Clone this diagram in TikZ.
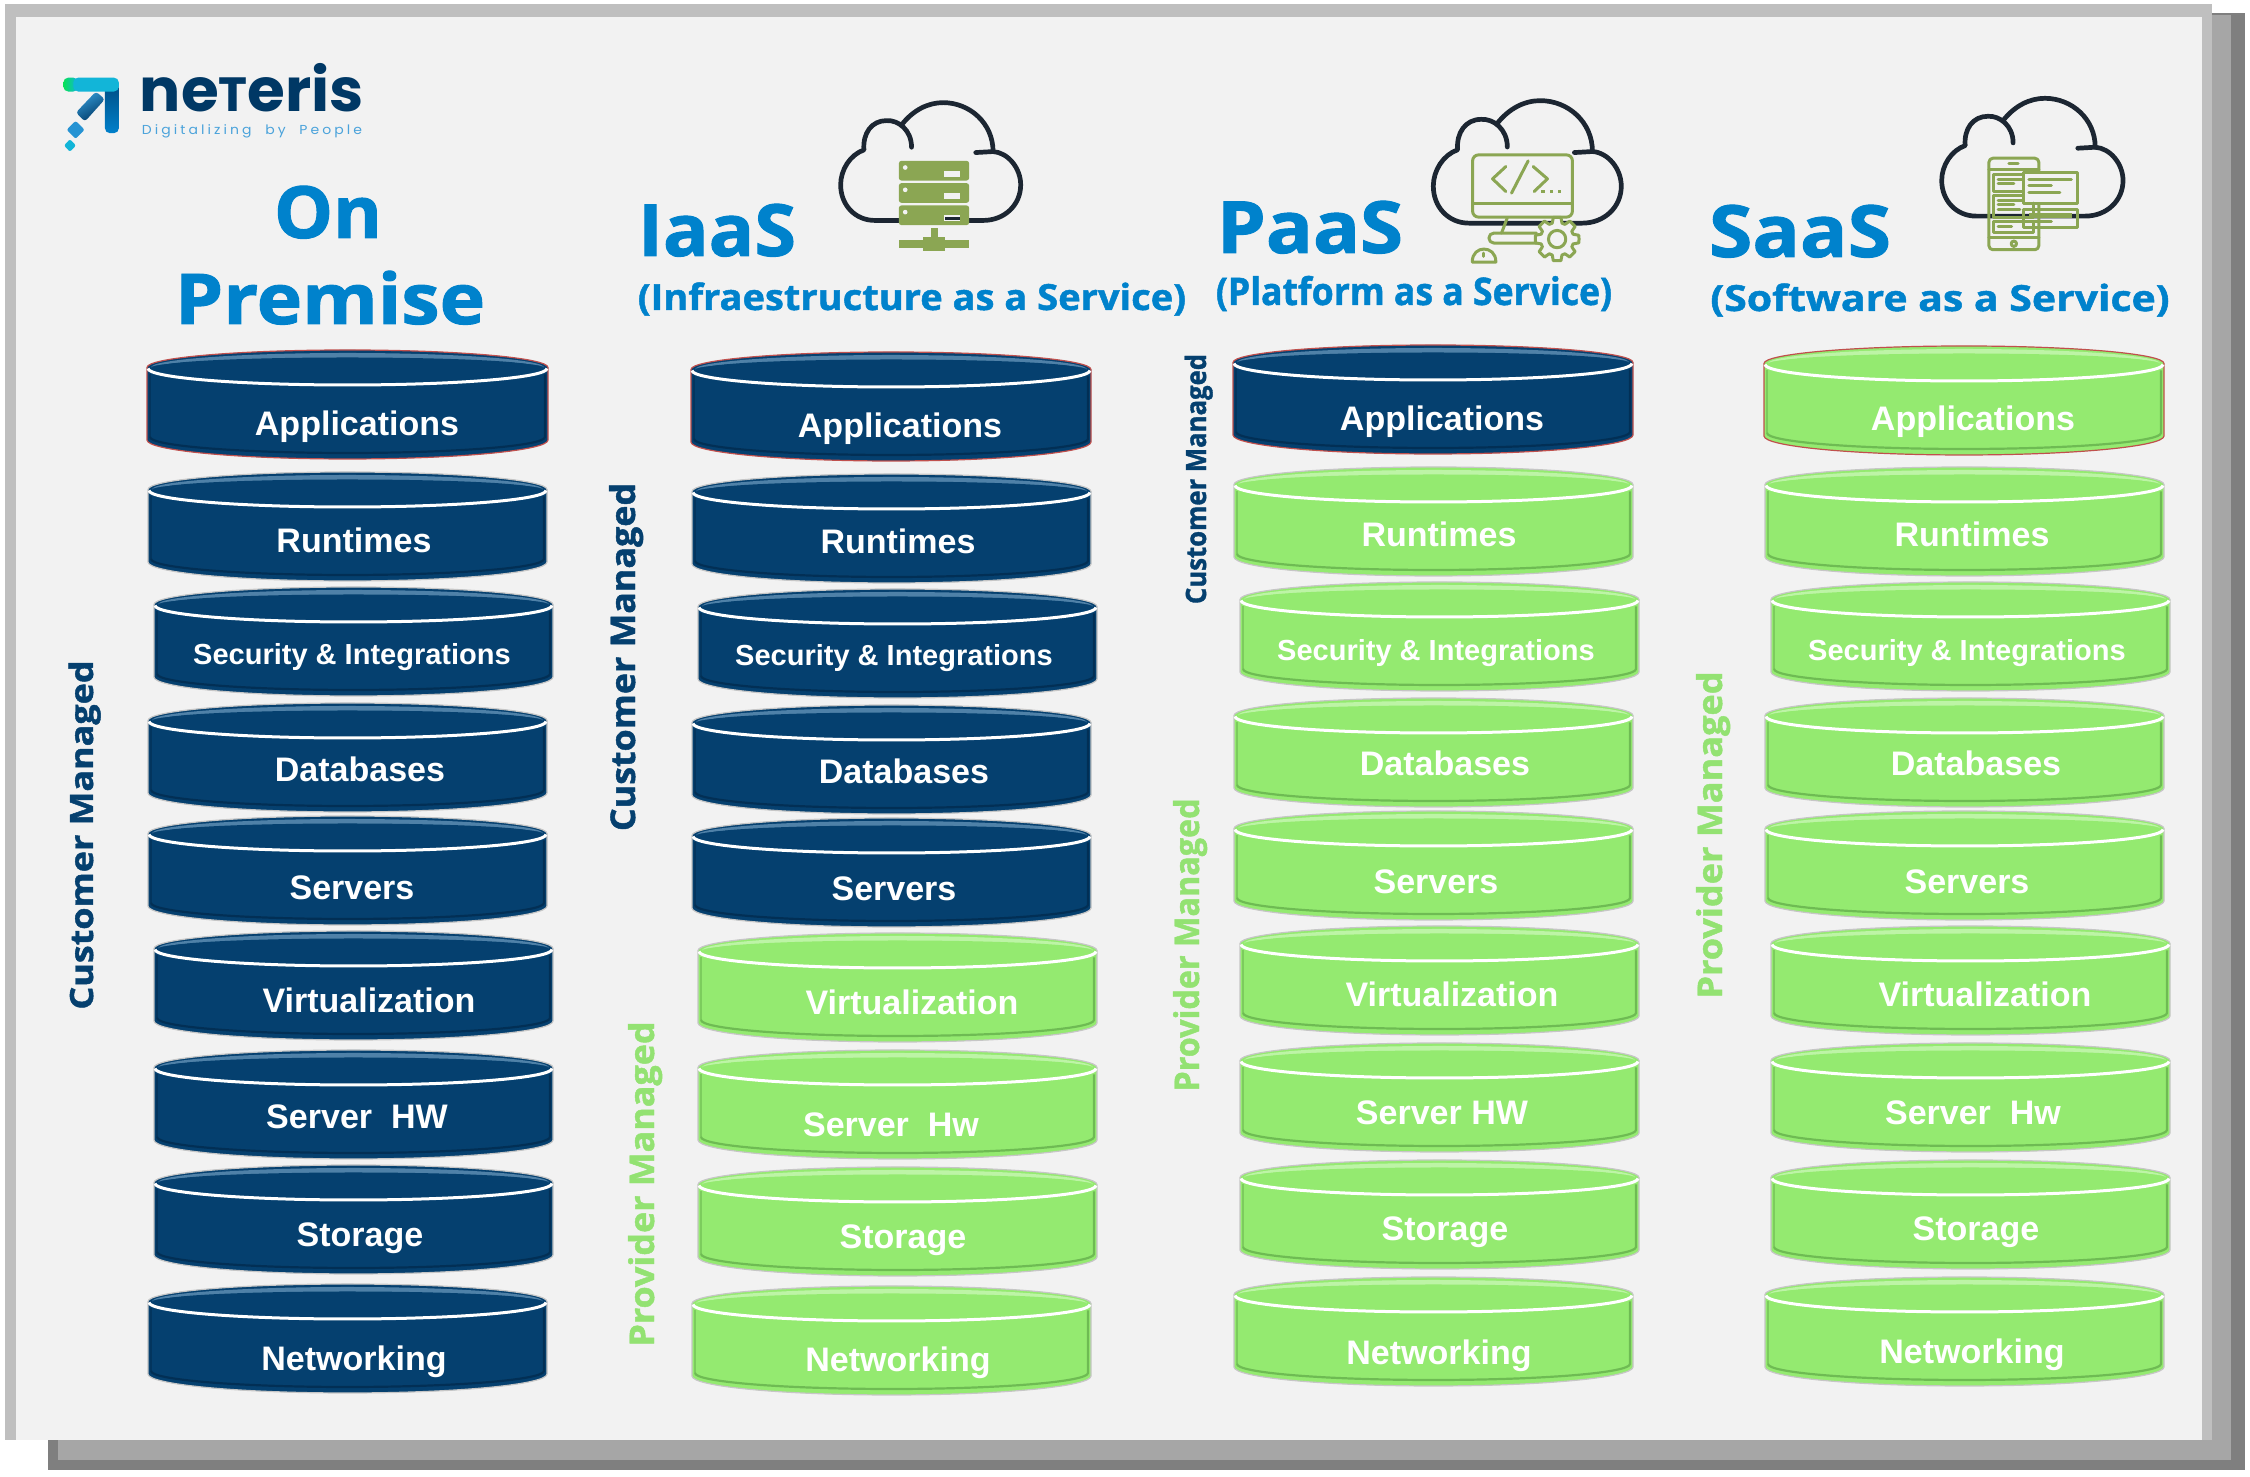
\documentclass[tikz,border=0pt]{standalone}
\usepackage{fontspec}
\usepackage{graphicx}
\setmainfont{Liberation Sans}
\newfontfamily\headfont{Open Sans}[BoldFeatures={FakeBold=1.3}]
\newfontfamily\brandfont{Poppins}
\newfontfamily\tagfont{Poppins}[LetterSpace=22]
\definecolor{panelbg}{HTML}{F2F2F2}
\definecolor{framegrey}{HTML}{BFBFBF}
\definecolor{midgrey}{HTML}{A6A6A6}
\definecolor{darkgrey}{HTML}{7F7F7F}
\definecolor{navybase}{HTML}{05406F}
\definecolor{navylight}{HTML}{4F81A8}
\definecolor{navymid}{HTML}{1B5482}
\definecolor{navydark}{HTML}{02294A}
\definecolor{greenbase}{HTML}{94EA70}
\definecolor{greenlight}{HTML}{BDF4A6}
\definecolor{greenmid}{HTML}{B2F199}
\definecolor{greendark}{HTML}{5FA848}
\definecolor{titleblue}{HTML}{0082CC}
\definecolor{providergreen}{HTML}{93E272}
\definecolor{cloudink}{HTML}{1C2632}
\definecolor{iconolive}{HTML}{8BA653}
\definecolor{edgegrey}{HTML}{C6C6C6}
\definecolor{edgered}{HTML}{C0504D}
\definecolor{logonavy}{HTML}{003865}
\definecolor{logoblue}{HTML}{0080CB}
\definecolor{logocyan}{HTML}{12B5D8}
\definecolor{logotag}{HTML}{4BA3DB}
% font size given in picture units (1 unit = 0.01 cm)
\newcommand\pxf[1]{\pgfmathsetmacro\pxs{#1*0.28453}\fontsize{\pxs}{\pxs}\selectfont}
% sets text to a given width in picture units, stretching it sideways only
\newsavebox\fitbx
\newcommand\fitw[2]{\sbox\fitbx{#2}\pgfmathsetmacro\fitr{#1*0.28453/\wd\fitbx}\scalebox{\fitr}[1]{\usebox\fitbx}}
\tikzset{
  lbl/.style={anchor=base,inner sep=0pt,outer sep=0pt,text=white,font=\bfseries},
  headtext/.style={anchor=base,inner sep=0pt,outer sep=0pt,text=titleblue},
  sidetext/.style={anchor=base,rotate=90,inner sep=0pt,outer sep=0pt},
  cloudline/.style={draw=cloudink,line width=0.047cm,line cap=round,line join=round},
  olive/.style={draw=iconolive,line width=0.03cm,line join=round,line cap=round},
}
% one stacked disc: name, left, top, width, colour set, edge colour, label x, label baseline, label
\newcommand\cyl[9]{%
  \pgfmathsetmacro\xr{#4/2}
  \pgfmathsetmacro\xm{#2+#4}
  \pgfmathsetmacro\yc{#3+17.5}
  \pgfmathsetmacro\yb{#3+90}
  \fill[#5base,draw=#6,line width=0.012cm]
    (#2,\yc) arc[start angle=180,end angle=360,x radius=\xr,y radius=17.5]
    -- (\xm,\yb) arc[start angle=0,end angle=180,x radius=\xr,y radius=19] -- cycle;
  % raised rim on the far edge of the top
  \shade[left color=#5light,middle color=#5mid,right color=#5light]
    (#2+4,\yc) arc[start angle=180,end angle=360,x radius=\xr-4,y radius=14.5]
    arc[start angle=0,end angle=-180,x radius=\xr-4,y radius=9] -- cycle;
  \fill[#5base]
    (#2+14,\yc-1) arc[start angle=180,end angle=360,x radius=\xr-14,y radius=9]
    arc[start angle=0,end angle=-180,x radius=\xr-14,y radius=3] -- cycle;
  % bevelled sides and lower edge
  \draw[#5dark,line width=0.022cm,opacity=.7]
    (\xm-3,\yc+7) -- (\xm-3,\yb-3) arc[start angle=0,end angle=180,x radius=\xr-3,y radius=16];
  \draw[#5dark,line width=0.012cm,opacity=.45] (#2+3,\yb-3) -- (#2+3,\yc+7);
  \draw[white,line width=0.03cm]
    (\xm-1,\yc+1) arc[start angle=0,end angle=180,x radius=\xr-1,y radius=16.5];
  \node[lbl] (#1) at (#7,#8+2) {\pxf{34}#9};
}
% outline shared by the three cloud icons
\newcommand\cloudshape{%
  \draw[cloudline] (245,172) .. controls (245,120) and (205,90) .. (170,92)
    .. controls (125,92) and (98,130) .. (102,180)
    .. controls (60,195) and (32,240) .. (32,285)
    .. controls (32,345) and (75,392) .. (135,392) -- (460,392)
    .. controls (525,392) and (573,345) .. (573,285)
    .. controls (573,235) and (535,188) .. (490,185) -- (438,188);
  \draw[cloudline] (215,105) .. controls (250,60) and (295,38) .. (340,38)
    .. controls (420,38) and (490,100) .. (490,185);
}
\begin{document}
\begin{tikzpicture}[x=0.01cm,y=-0.01cm]
\useasboundingbox (0,0) rectangle (2250,1477);
\fill[white] (0,0) rectangle (2250,1477);
% sheet with its stepped shadow
\fill[darkgrey] (48,13) rectangle (2245,1470);
\fill[midgrey] (58,15) rectangle (2231,1460);
\fill[framegrey] (5,4) rectangle (2212,1440);
\fill[panelbg] (16,17) rectangle (2202,1440);

% logo mark and wordmark
\begin{scope}[shift={(50,50)},x=0.00333cm,y=-0.00333cm]
  \shade[top color=logonavy!70!logoblue,bottom color=logoblue,rounded corners=0.05cm]
    (165,100) rectangle (207,250);
  \shade[left color=green!60!logocyan,right color=logocyan,rounded corners=0.05cm]
    (40,83) rectangle (85,125);
  \fill[logocyan,rounded corners=0.05cm] (70,83) -- (207,83) -- (207,125) -- (70,125) -- cycle;
  \shade[left color=logoblue!80,right color=logonavy,shading angle=30,rounded corners=0.03cm]
    (78,188) -- (138,125) -- (165,148) -- (105,215) -- cycle;
  \fill[logoblue!85!white,rounded corners=0.02cm] (77,213) -- (104,240) -- (77,267) -- (50,240) -- cycle;
  \fill[logocyan,rounded corners=0.02cm] (60,268) -- (78,287) -- (60,306) -- (42,287) -- cycle;
\end{scope}
\node[headtext,text=logonavy] (brand) at (252,112) {\fitw{224}{\pxf{60}\brandfont\bfseries ne\scalebox{.8}{T}eris}};
\node[headtext,text=logotag] (tagline) at (252,135) {\fitw{220}{\pxf{13}\tagfont Digitalizing\ \ by\ \ People}};

% column headings
\node[headtext] (onword) at (328,238) {\fitw{108}{\pxf{72}\headfont\bfseries On}};
\node[headtext] (premiseword) at (330,324) {\fitw{310}{\pxf{70}\headfont\bfseries Premise}};
\node[headtext] (iaasword) at (717,256) {\fitw{158}{\pxf{72}\headfont\bfseries IaaS}};
\node[headtext] (iaasfull) at (912,310) {\fitw{548}{\pxf{36}\headfont\bfseries (Infraestructure as a Service)}};
\node[headtext] (paasword) at (1310,253) {\fitw{186}{\pxf{72}\headfont\bfseries PaaS}};
\node[headtext] (paasfull) at (1414,305) {\fitw{396}{\pxf{38}\headfont\bfseries (Platform as a Service)}};
\node[headtext] (saasword) at (1800,257) {\fitw{182}{\pxf{72}\headfont\bfseries SaaS}};
\node[headtext] (saasfull) at (1940,311) {\fitw{459}{\pxf{36}\headfont\bfseries (Software as a Service)}};

% IaaS icon: server rack in a cloud
\begin{scope}[shift={(830,90)},x=0.00333cm,y=-0.00333cm]
  \cloudshape
  \foreach \ya/\yb in {213/272,280/339,347/406}{
    \fill[iconolive,rounded corners=0.025cm] (207,\ya) rectangle (418,\yb);
    \fill[panelbg] (226,\ya+20) circle[radius=7];
    \fill[panelbg] (343,\ya+30) rectangle (391,\ya+47);
  }
  \fill[cloudink] (345,381) rectangle (390,392);
  \fill[iconolive] (302,414) rectangle (325,445);
  \fill[iconolive] (208,450) rectangle (417,476);
  \fill[iconolive] (280,442) rectangle (346,484);
\end{scope}

% PaaS icon: monitor, code and gear in a cloud
\begin{scope}[shift={(1420,90)},x=0.00333cm,y=-0.00333cm]
  \begin{scope}[shift={(6.6,-7.5)},xscale=1.044,yscale=1.04]
    \cloudshape
  \end{scope}
  \draw[olive,rounded corners=0.06cm] (158,195) rectangle (458,382);
  \draw[olive] (158,340) -- (458,340);
  \draw[olive] (258,230) -- (218,267) -- (258,305);
  \draw[olive] (325,213) -- (275,310);
  \draw[olive] (340,230) -- (383,267) -- (343,305);
  \foreach \xd in {370,395,420}{\fill[iconolive] (\xd-5,300) rectangle (\xd+5,310);}
  \draw[olive] (262,385) -- (245,430);
  \draw[olive,rounded corners=0.05cm] (350,430) -- (207,430) -- (207,460) -- (350,460);
  \draw[olive] (157,517) -- (228,517) .. controls (228,490) and (210,478) .. (192,478)
    .. controls (175,478) and (157,490) .. (157,517);
  \draw[olive] (192,490) -- (192,500);
  \begin{scope}[shift={(412,448)}]
    \draw[olive,fill=panelbg]
      (0:66) -- (10:66) -- (17:50) -- (28:50) -- (35:66) -- (55:66) -- (62:50) -- (73:50) -- (80:66)
      -- (100:66) -- (107:50) -- (118:50) -- (125:66) -- (145:66) -- (152:50) -- (163:50) -- (170:66)
      -- (190:66) -- (197:50) -- (208:50) -- (215:66) -- (235:66) -- (242:50) -- (253:50) -- (260:66)
      -- (280:66) -- (287:50) -- (298:50) -- (305:66) -- (325:66) -- (332:50) -- (343:50) -- (350:66) -- cycle;
    \draw[olive] (0,0) circle[radius=26];
  \end{scope}
\end{scope}

% SaaS icon: phone and cards in a cloud
\begin{scope}[shift={(1930,90)},x=0.00333cm,y=-0.00333cm]
  \begin{scope}[shift={(3,-13)},xscale=1.007,yscale=1.0]
    \cloudshape
  \end{scope}
  \draw[olive,rounded corners=0.04cm] (177,205) rectangle (327,480);
  \draw[olive] (177,238) -- (327,238);
  \draw[olive] (177,443) -- (327,443);
  \draw[olive] (237,220) -- (265,220);
  \draw[olive] (252,462) circle[radius=8];
  \draw[olive] (192,255) rectangle (312,305);
  \draw[olive] (192,318) rectangle (312,382);
  \draw[olive] (192,395) rectangle (312,428);
  \draw[olive] (205,268) -- (275,268);
  \draw[olive] (205,282) -- (252,282);
  \draw[olive] (205,333) -- (275,333);
  \draw[olive] (205,345) -- (252,345);
  \draw[olive] (205,358) -- (270,358);
  \draw[olive] (205,410) -- (245,410);
  \draw[olive,fill=panelbg] (280,248) rectangle (443,340);
  \draw[olive] (297,270) -- (425,270);
  \draw[olive] (297,288) -- (365,288);
  \draw[olive] (297,307) -- (390,307);
  \draw[olive] (280,360) rectangle (443,413);
  \draw[iconolive,line width=0.05cm] (297,377) -- (428,377);
  \draw[olive] (297,395) -- (365,395);
  \draw[olive] (312,340) -- (312,360);
\end{scope}

% On Premise stack
\cyl{opa}{147}{350}{401}{navy}{edgered}{357}{434}{Applications}
\cyl{opb}{148}{472}{399}{navy}{edgegrey}{354}{551}{Runtimes}
\cyl{opc}{154}{587}{399}{navy}{edgegrey}{352}{663}{\pxf{29}Security \& Integrations}
\cyl{opd}{148}{703}{399}{navy}{edgegrey}{360}{780}{Databases}
\cyl{ope}{148}{816}{399}{navy}{edgegrey}{352}{898}{Servers}
\cyl{opf}{154}{931}{399}{navy}{edgegrey}{369}{1011}{Virtualization}
\cyl{opg}{154}{1050}{399}{navy}{edgegrey}{357}{1127}{Server\ \ HW}
\cyl{oph}{154}{1165}{399}{navy}{edgegrey}{360}{1245}{Storage}
\cyl{opi}{148}{1284}{399}{navy}{edgegrey}{354}{1369}{Networking}

% IaaS stack
\cyl{iaa}{691}{352}{400}{navy}{edgered}{900}{436}{Applications}
\cyl{iab}{692}{474}{399}{navy}{edgegrey}{898}{552}{Runtimes}
\cyl{iac}{698}{589}{399}{navy}{edgegrey}{894}{664}{\pxf{29}Security \& Integrations}
\cyl{iad}{692}{705}{399}{navy}{edgegrey}{904}{782}{Databases}
\cyl{iae}{692}{818}{399}{navy}{edgegrey}{894}{899}{Servers}
\cyl{iaf}{698}{933}{399}{green}{edgegrey}{912}{1013}{Virtualization}
\cyl{iag}{698}{1050}{399}{green}{edgegrey}{891}{1135}{Server\ \ Hw}
\cyl{iah}{698}{1167}{399}{green}{edgegrey}{903}{1247}{Storage}
\cyl{iai}{692}{1286}{399}{green}{edgegrey}{898}{1370}{Networking}

% PaaS stack
\cyl{paa}{1233}{345}{400}{navy}{edgered}{1442}{429}{Applications}
\cyl{pab}{1234}{467}{399}{green}{edgegrey}{1439}{545}{Runtimes}
\cyl{pac}{1240}{582}{399}{green}{edgegrey}{1436}{659}{\pxf{29}Security \& Integrations}
\cyl{pad}{1234}{698}{399}{green}{edgegrey}{1445}{774}{Databases}
\cyl{pae}{1234}{811}{399}{green}{edgegrey}{1436}{892}{Servers}
\cyl{paf}{1240}{926}{399}{green}{edgegrey}{1452}{1005}{Virtualization}
\cyl{pag}{1240}{1043}{399}{green}{edgegrey}{1442}{1123}{Server HW}
\cyl{pah}{1240}{1160}{399}{green}{edgegrey}{1445}{1239}{Storage}
\cyl{pai}{1234}{1277}{399}{green}{edgegrey}{1439}{1363}{Networking}

% SaaS stack
\cyl{saa}{1764}{346}{400}{green}{edgered}{1973}{429}{Applications}
\cyl{sab}{1765}{467}{399}{green}{edgegrey}{1972}{545}{Runtimes}
\cyl{sac}{1771}{582}{399}{green}{edgegrey}{1967}{659}{\pxf{29}Security \& Integrations}
\cyl{sad}{1765}{698}{399}{green}{edgegrey}{1976}{774}{Databases}
\cyl{sae}{1765}{811}{399}{green}{edgegrey}{1967}{892}{Servers}
\cyl{saf}{1771}{926}{399}{green}{edgegrey}{1985}{1005}{Virtualization}
\cyl{sag}{1771}{1043}{399}{green}{edgegrey}{1973}{1123}{Server\ \ Hw}
\cyl{sah}{1771}{1160}{399}{green}{edgegrey}{1976}{1239}{Storage}
\cyl{sai}{1765}{1277}{399}{green}{edgegrey}{1972}{1362}{Networking}

% responsibility captions along the stacks
\node[sidetext,text=navybase] (opcust) at (93,835) {\fitw{349}{\pxf{32}\headfont\bfseries Customer Managed}};
\node[sidetext,text=navybase] (iacust) at (635,657) {\fitw{348}{\pxf{34}\headfont\bfseries Customer Managed}};
\node[sidetext,text=providergreen] (iaprov) at (654,1184) {\fitw{325}{\pxf{34}\headfont\bfseries Provider Managed}};
\node[sidetext,text=navybase] (pacust) at (1206,479) {\fitw{250}{\pxf{28}\headfont\bfseries Customer Managed}};
\node[sidetext,text=providergreen] (paprov) at (1199,945) {\fitw{293}{\pxf{34}\headfont\bfseries Provider Managed}};
\node[sidetext,text=providergreen] (saprov) at (1722,835) {\fitw{327}{\pxf{34}\headfont\bfseries Provider Managed}};
\end{tikzpicture}
\end{document}
